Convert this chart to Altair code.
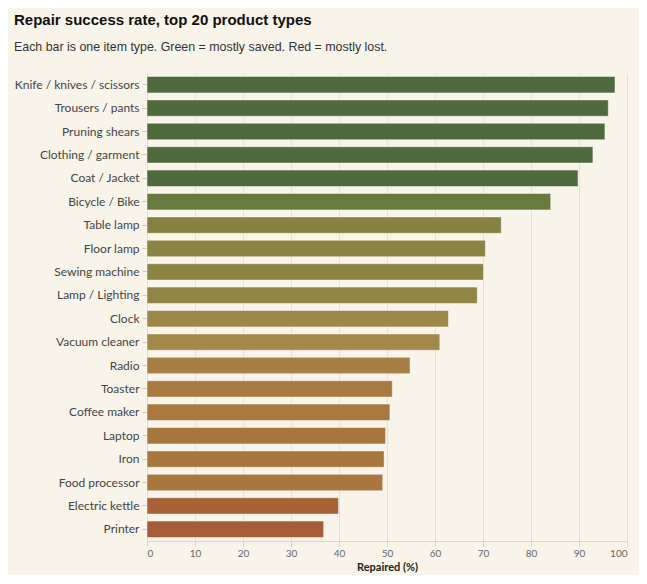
import altair as alt
import pandas as pd

items = [
    "Knife / knives / scissors", "Trousers / pants", "Pruning shears",
    "Clothing / garment", "Coat / Jacket", "Bicycle / Bike", "Table lamp",
    "Floor lamp", "Sewing machine", "Lamp / Lighting", "Clock",
    "Vacuum cleaner", "Radio", "Toaster", "Coffee maker", "Laptop", "Iron",
    "Food processor", "Electric kettle", "Printer",
]
repaired = [97.5, 96.1, 95.4, 92.9, 89.8, 84.1, 73.8, 70.5, 70.1, 68.8,
            62.8, 61.0, 54.8, 51.1, 50.6, 49.7, 49.4, 49.1, 39.9, 36.8]

df = pd.DataFrame({"item": items, "repaired": repaired})

BG = "#f8f4ea"

chart = alt.Chart(df).mark_bar(
    stroke="white", strokeOpacity=0.45, strokeWidth=1
).encode(
    y=alt.Y("item:N", sort=items, title=None,
            scale=alt.Scale(paddingInner=0.3, paddingOuter=0.15),
            axis=alt.Axis(labelFont="Lato", labelFontSize=12,
                          labelColor="#444444", tickColor="#cfc8b4",
                          tickSize=5, labelPadding=3, domain=False,
                          grid=False)),
    x=alt.X("repaired:Q", title="Repaired (%)",
            scale=alt.Scale(domain=[0, 100], nice=False),
            axis=alt.Axis(values=list(range(0, 101, 10)), labelFont="Lato",
                          labelFontSize=10, labelColor="#666666",
                          titleFont="Lato", titleFontSize=11,
                          titleFontWeight="bold", titleColor="#222222",
                          titlePadding=3,
                          gridColor="#e7e0cd", domainColor="#ddd5c0",
                          tickColor="#ddd5c0", tickSize=5)),
    color=alt.Color("repaired:Q", legend=None,
                    scale=alt.Scale(domain=[36, 50, 62, 73, 84, 89],
                                    range=["#a65a35", "#a8783f", "#a0894a",
                                           "#868242", "#6a7a40", "#4f6b3e"],
                                    clamp=True, interpolate="rgb")),
).properties(
    width=480,
    height=468,
    background=BG,
    padding={"left": 139, "top": 65, "right": 12, "bottom": 34},
    autosize=alt.AutoSizeParams(type="none"),
    title=alt.TitleParams(
        text="Repair success rate, top 20 product types",
        subtitle="Each bar is one item type. Green = mostly saved. Red = mostly lost.",
        anchor="start", frame="group", dx=-133, offset=20,
        font="Liberation Sans", fontSize=15, fontWeight="bold", color="#111111",
        subtitleFont="Liberation Sans", subtitleFontSize=12.4,
        subtitleColor="#333333", subtitlePadding=13,
    ),
).configure_view(stroke=None)

chart.save("out.html", embed_options={"renderer": "svg", "actions": False})
